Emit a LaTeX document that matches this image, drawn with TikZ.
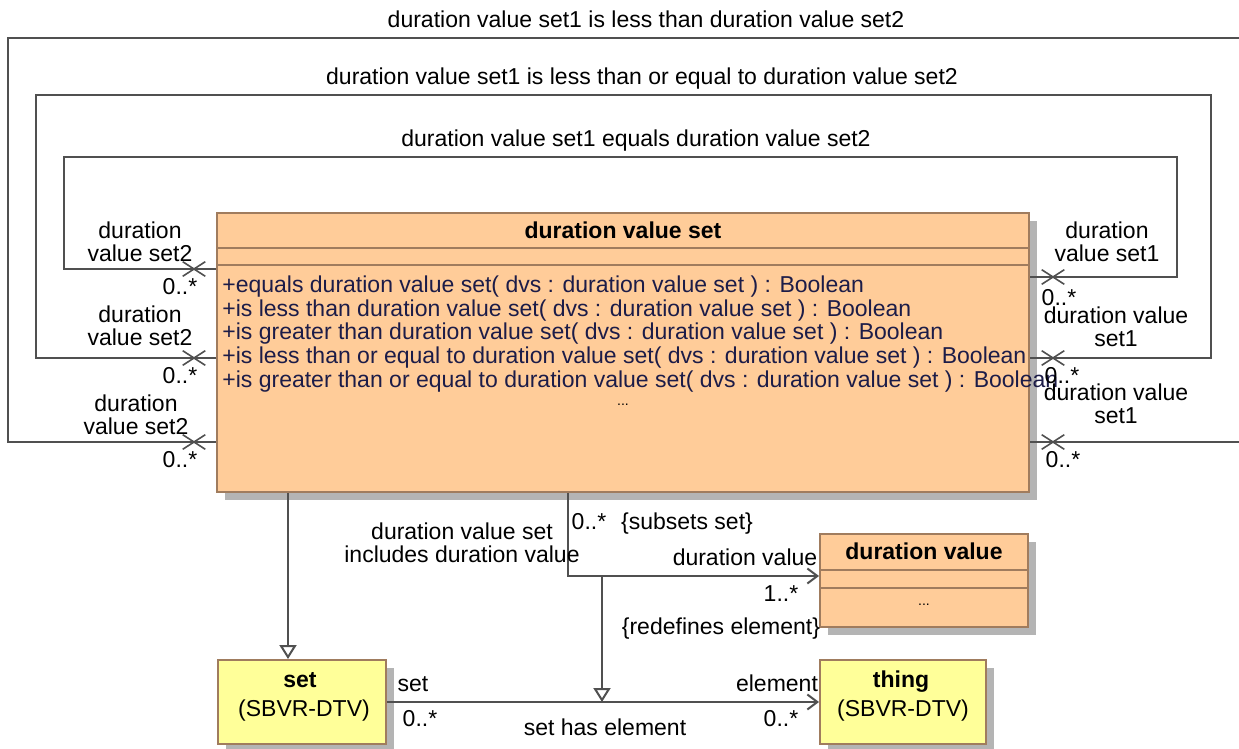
\documentclass[tikz,border=0pt]{standalone}
\usepackage{fontspec}
\setmainfont{Liberation Sans}
\usetikzlibrary{arrows.meta, positioning, fit, shadows, shapes.misc}
\definecolor{dvPeach}{HTML}{FFCC99}
\definecolor{dvYellow}{HTML}{FFFF99}
\definecolor{dvBorder}{HTML}{A07C5E}
\definecolor{dvShadow}{HTML}{B4B4B4}
\definecolor{dvLine}{HTML}{505050}
\definecolor{dvInk}{HTML}{1C1C48}
\newcommand{\dvfont}{\fontsize{11.5}{11.5}\selectfont}
\tikzset{
  dv-class/.style={
    rectangle, draw=dvBorder, line width=1pt, fill=dvPeach, inner sep=0pt,
    drop shadow={shadow xshift=4pt, shadow yshift=-4pt, fill=dvShadow, opacity=1}
  },
  dv-ext/.style={dv-class, fill=dvYellow},
  dv-sep/.style={draw=dvBorder, line width=0.8pt},
  dv-lbl/.style={font=\dvfont, inner sep=0pt, text height=8.3pt, text depth=0pt},
  dv-title/.style={dv-lbl, font=\dvfont\bfseries},
  dv-op/.style={dv-lbl, anchor=west, text=dvInk},
  dv-role/.style={font=\dvfont, inner sep=0pt, align=center},
  dv-assoc/.style={draw=dvLine, line width=1pt},
  dv-nav/.style={dv-assoc, -{Straight Barb[length=5pt, width=7.5pt]}},
  dv-gen/.style={dv-assoc, -{Triangle[open, length=7pt, width=8.5pt, fill=white]}},
  dv-x/.style={cross out, draw=dvLine, line width=0.8pt, minimum width=10.5pt,
    minimum height=6.5pt, inner sep=0pt},
}

\begin{document}
\begin{tikzpicture}[x=0.5pt, y=-0.5pt]
  \useasboundingbox (0,0) rectangle (1239,749);

  % classes
  \node[dv-class, fit={(217,213) (1029,492)}] (dvs) {};
  \node[dv-class, fit={(820,534) (1028,627)}] (dval) {};
  \node[dv-ext, fit={(218,660) (386,744)}]    (set) {};
  \node[dv-ext, fit={(820,660) (986,744)}]    (thing) {};

  \draw[dv-sep] (217,248) -- (1029,248);
  \draw[dv-sep] (217,265) -- (1029,265);
  \draw[dv-sep] (820,570) -- (1028,570);
  \draw[dv-sep] (820,588) -- (1028,588);

  \node[dv-title] (dvsname) at (623,230) {duration value set};
  \node[dv-op] (op1) at (222,284) {+equals duration value set( dvs : duration value set ) : Boolean};
  \node[dv-op] (op2) at (222,308) {+is less than duration value set( dvs : duration value set ) : Boolean};
  \node[dv-op] (op3) at (222,331) {+is greater than duration value set( dvs : duration value set ) : Boolean};
  \node[dv-op] (op4) at (222,355) {+is less than or equal to duration value set( dvs : duration value set ) : Boolean};
  \node[dv-op] (op5) at (222,379) {+is greater than or equal to duration value set( dvs : duration value set ) : Boolean};
  \node[font=\scriptsize, inner sep=0pt] (dvsmore) at (623,405) {...};

  \node[dv-title] (dvalname) at (924,551) {duration value};
  \node[font=\scriptsize, inner sep=0pt] (dvalmore) at (924,605) {...};

  \node[dv-title] (setname) at (300,679) {set};
  \node[dv-lbl] (setpkg) at (304,708) {(SBVR-DTV)};
  \node[dv-title] (thingname) at (901,679) {thing};
  \node[dv-lbl] (thingpkg) at (903,708) {(SBVR-DTV)};

  % reflexive associations
  \draw[dv-assoc] (dvs.west |- 0,269) -| (64,157) -| (1177,277) -- (dvs.east |- 0,277);
  \draw[dv-assoc] (dvs.west |- 0,358) -| (36,95) -| (1211,358) -- (dvs.east |- 0,358);
  \draw[dv-assoc] (dvs.west |- 0,442) -| (8,38) -| (1260,442) -- (dvs.east |- 0,442);

  \node[dv-x] (x1l) at (194,269) {};
  \node[dv-x] (x1r) at (1053,277) {};
  \node[dv-x] (x2l) at (194,358) {};
  \node[dv-x] (x2r) at (1053,358) {};
  \node[dv-x] (x3l) at (194,442) {};
  \node[dv-x] (x3r) at (1053,442) {};

  \node[dv-lbl] (eqname) at (636,138) {duration value set1 equals duration value set2};
  \node[dv-lbl] (lename) at (642,76) {duration value set1 is less than or equal to duration value set2};
  \node[dv-lbl] (ltname) at (646,19) {duration value set1 is less than duration value set2};

  \node[dv-role] (eq2) at (140,242) {duration\\value set2};
  \node[dv-lbl]  (eq2m) at (180,286) {0..*};
  \node[dv-role] (eq1) at (1107,242) {duration\\value set1};
  \node[dv-lbl]  (eq1m) at (1059,297) {0..*};

  \node[dv-role] (le2) at (140,326) {duration\\value set2};
  \node[dv-lbl]  (le2m) at (180,375) {0..*};
  \node[dv-role] (le1) at (1116,327) {duration value\\set1};
  \node[dv-lbl]  (le1m) at (1062,375) {0..*};

  \node[dv-role] (lt2) at (136,415) {duration\\value set2};
  \node[dv-lbl]  (lt2m) at (180,459) {0..*};
  \node[dv-role] (lt1) at (1116,404) {duration value\\set1};
  \node[dv-lbl]  (lt1m) at (1063,459) {0..*};

  % generalization and associations below
  \draw[dv-gen] (dvs.south -| 288,0) -- (set.north -| 288,0);
  \draw[dv-nav] (dvs.south -| 568,0) |- (dval.west |- 0,576);
  \draw[dv-nav] (set.east) -- (thing.west);
  \coordinate (incl) at (602,576);
  \coordinate (has) at (602,702);
  \draw[dv-gen] (incl) -- (has);

  \node[dv-role] (inclname) at (462,543) {duration value set\\includes duration value};
  \node[dv-lbl] (inclm1) at (589,521) {0..*};
  \node[dv-lbl] (inclc1) at (687,521) {\{subsets set\}};
  \node[dv-lbl] (inclr2) at (745,557) {duration value};
  \node[dv-lbl] (inclm2) at (781,593) {1..*};
  \node[dv-lbl] (inclc2) at (721,626) {\{redefines element\}};

  \node[dv-lbl] (hasr1) at (413,683) {set};
  \node[dv-lbl] (hasm1) at (420,718) {0..*};
  \node[dv-lbl] (hasname) at (605,727) {set has element};
  \node[dv-lbl] (hasr2) at (777,683) {element};
  \node[dv-lbl] (hasm2) at (781,718) {0..*};
\end{tikzpicture}
\end{document}
